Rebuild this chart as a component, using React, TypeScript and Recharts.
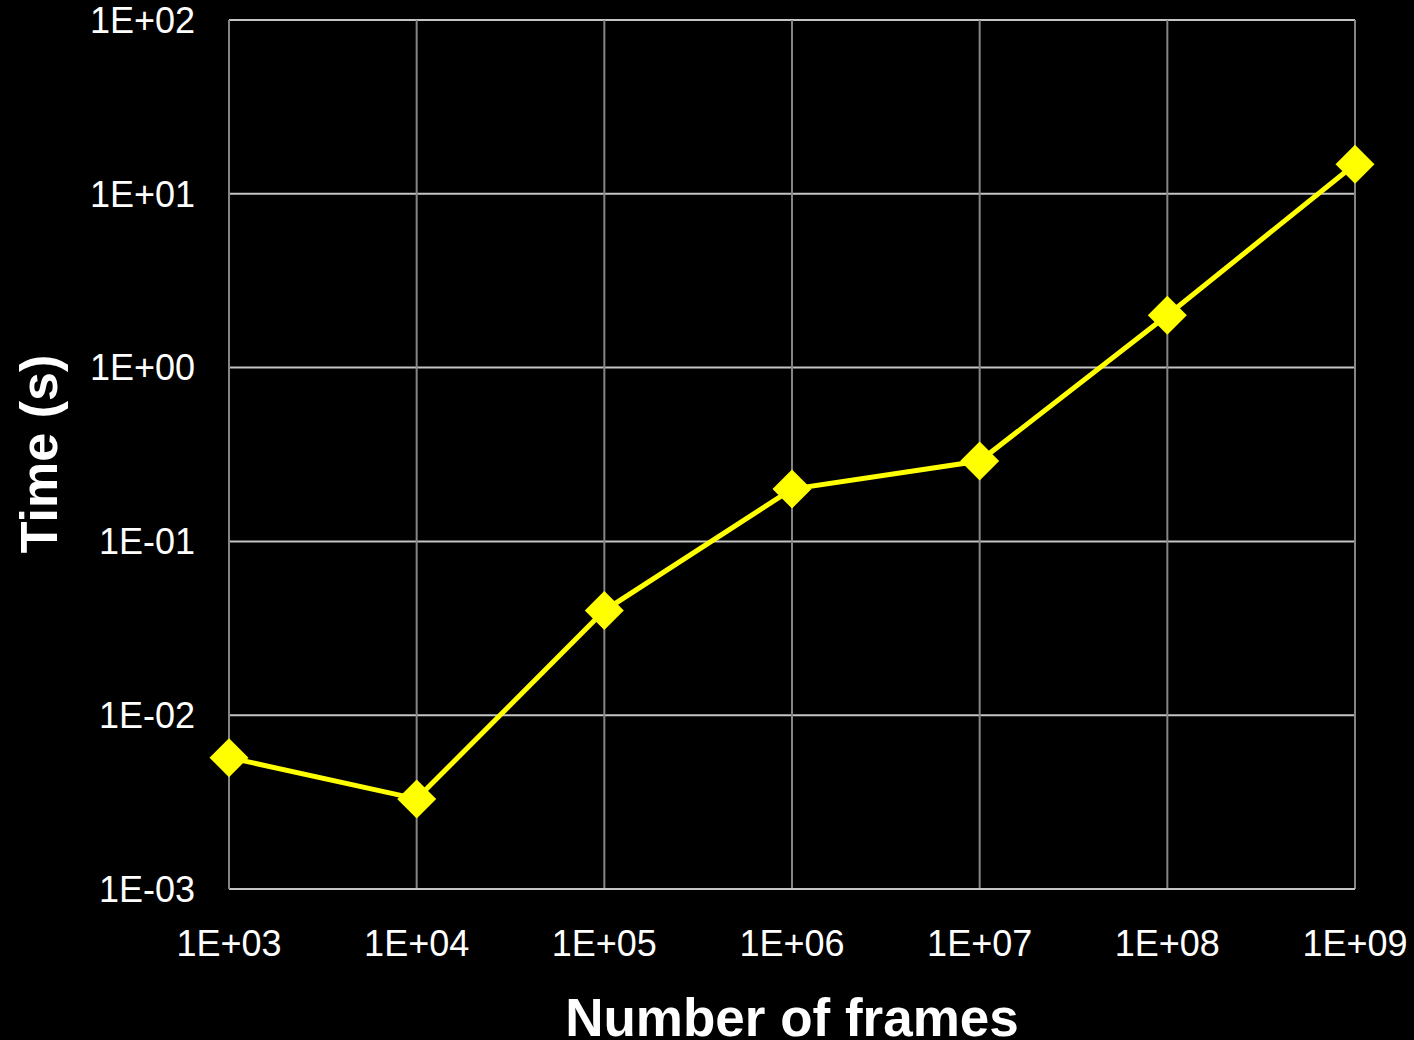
import { LineChart, Line, XAxis, YAxis, CartesianGrid, Label } from "recharts";

// frames processed vs. wall time
const frames = [1e3, 1e4, 1e5, 1e6, 1e7, 1e8, 1e9];
const seconds = [0.0057, 0.0033, 0.04, 0.2, 0.29, 2.0, 14.8];

const xTicks = [1e3, 1e4, 1e5, 1e6, 1e7, 1e8, 1e9];
const xTickLabels = ["1E+03", "1E+04", "1E+05", "1E+06", "1E+07", "1E+08", "1E+09"];
const yTicks = [1e-3, 1e-2, 1e-1, 1e0, 1e1, 1e2];
const yTickLabels = ["1E-03", "1E-02", "1E-01", "1E+00", "1E+01", "1E+02"];

const data = frames.map((n, i) => ({ n, t: seconds[i] }));

const FONT = "'Liberation Sans', Arial, sans-serif";
const YELLOW = "#ffff00";

function Diamond(props: any) {
  const { cx, cy } = props;
  if (cx == null || cy == null) return null;
  const r = 19.5;
  return (
    <polygon
      points={`${cx},${cy - r} ${cx + r},${cy} ${cx},${cy + r} ${cx - r},${cy}`}
      fill={YELLOW}
    />
  );
}

function labelFor(ticks: number[], labels: string[], v: number) {
  const i = ticks.findIndex((t) => Math.abs(Math.log10(t) - Math.log10(v)) < 1e-6);
  return i >= 0 ? labels[i] : "";
}

export default function App() {
  return (
    <div style={{ position: "fixed", left: 0, top: 0, width: 1414, height: 1040, background: "#000" }}>
      <LineChart
        width={1414}
        height={1040}
        data={data}
        margin={{ top: 20, right: 59, bottom: 0, left: 0 }}
      >
        <CartesianGrid horizontal={true} vertical={false} stroke="#c4c4c4" strokeWidth={2} />
        <CartesianGrid horizontal={false} vertical={true} stroke="#858585" strokeWidth={2} />
        <XAxis
          dataKey="n"
          type="number"
          scale="log"
          domain={[1e3, 1e9]}
          ticks={xTicks}
          height={151}
          tickSize={0}
          tickMargin={41}
          axisLine={{ stroke: "#c4c4c4", strokeWidth: 2 }}
          tickFormatter={(v: number) => labelFor(xTicks, xTickLabels, v)}
          tick={{ fill: "#ffffff", fontSize: 36, fontFamily: FONT }}
          interval={0}
        >
          <Label
            content={() => (
              <text
                x={792}
                y={1036}
                textAnchor="middle"
                fill="#ffffff"
                fontSize={53}
                fontWeight="bold"
                fontFamily={FONT}
              >
                Number of frames
              </text>
            )}
          />
        </XAxis>
        <YAxis
          dataKey="t"
          type="number"
          scale="log"
          domain={[1e-3, 1e2]}
          ticks={yTicks}
          width={229}
          tickSize={0}
          tickMargin={34}
          axisLine={{ stroke: "#858585", strokeWidth: 2 }}
          tickFormatter={(v: number) => labelFor(yTicks, yTickLabels, v)}
          tick={{ fill: "#ffffff", fontSize: 36, fontFamily: FONT }}
          interval={0}
        >
          <Label
            content={() => (
              <text
                x={57}
                y={454}
                transform="rotate(-90 57 454)"
                textAnchor="middle"
                fill="#ffffff"
                fontSize={52}
                fontWeight="bold"
                fontFamily={FONT}
              >
                Time (s)
              </text>
            )}
          />
        </YAxis>
        <Line
          dataKey="t"
          stroke={YELLOW}
          strokeWidth={5}
          dot={<Diamond />}
          activeDot={false}
          isAnimationActive={false}
        />
      </LineChart>
    </div>
  );
}
